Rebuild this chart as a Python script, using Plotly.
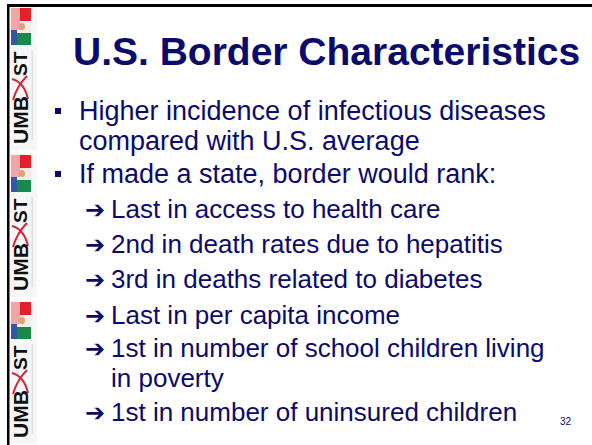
import plotly.graph_objects as go

# ---- slide content ----
title = "U.S. Border Characteristics"
line_texts = [
    "Higher incidence of infectious diseases",
    "compared with U.S. average",
    "If made a state, border would rank:",
    "Last in access to health care",
    "2nd in death rates due to hepatitis",
    "3rd in deaths related to diabetes",
    "Last in per capita income",
    "1st in number of school children living",
    "in poverty",
    "1st in number of uninsured children",
]
# marker type per line: "bullet" (square), "arrow" (sub item), "" (continuation)
line_markers = ["bullet", "", "bullet", "arrow", "arrow", "arrow", "arrow", "arrow", "", "arrow"]
line_levels = [1, 1, 1, 2, 2, 2, 2, 2, 2, 2]
page_number = "32"
logo_words = ["UMB", "ST"]

# ---- layout / style constants (pixels) ----
W, H = 592, 445
NAVY = "#0b0b6b"
FONT = "Arial, Liberation Sans, sans-serif"
line_y = [111, 141, 174, 209, 244, 279, 315, 348, 378, 412]
level_x = {1: 78, 2: 110}
level_size = {1: 27, 2: 26}
tile_offsets = [0, 147, 294]

fig = go.Figure()
shapes = []
annotations = []

# slide frame lines
shapes.append(dict(type="rect", x0=7, x1=W, y0=4, y1=7, fillcolor="black", line_width=0, layer="above"))
shapes.append(dict(type="rect", x0=7, x1=9.5, y0=4, y1=H, fillcolor="black", line_width=0, layer="above"))

# logo strip tiles
for oy in tile_offsets:
    shapes += [
        dict(type="rect", x0=10, x1=37, y0=7 + oy, y1=150 + oy, fillcolor="#f7f6f6", line_width=0),
        dict(type="rect", x0=11, x1=20, y0=8 + oy, y1=30 + oy, fillcolor="#f2a6a6", line_width=0),
        dict(type="rect", x0=20, x1=31, y0=8 + oy, y1=21 + oy, fillcolor="#e3202c", line_width=0),
        dict(type="rect", x0=20, x1=31, y0=21 + oy, y1=33 + oy, fillcolor="#f4ecea", line_width=0),
        dict(type="circle", x0=19, x1=25, y0=23 + oy, y1=30 + oy, fillcolor="#e0a070", line_width=0),
        dict(type="rect", x0=11, x1=17, y0=30 + oy, y1=45 + oy, fillcolor="#3556a8", line_width=0),
        dict(type="rect", x0=17, x1=31, y0=33 + oy, y1=45 + oy, fillcolor="#17894a", line_width=0),
        dict(type="rect", x0=31.5, x1=33, y0=50 + oy, y1=140 + oy, fillcolor="#e2e2e2", line_width=0),
        dict(type="path",
             path=f"M 12 {79+oy} Q 24 {82+oy} 28 {99+oy} M 13 {100+oy} Q 17 {86+oy} 27 {76+oy}",
             line=dict(color="#cc2a3a", width=2)),
    ]
    annotations.append(dict(x=20, y=120 + oy, text=f"<b>{logo_words[0]}</b>", textangle=-90,
                            showarrow=False, xref="x", yref="y",
                            font=dict(family=FONT, size=21, color="#111111")))
    annotations.append(dict(x=20, y=64 + oy, text=f"<b>{logo_words[1]}</b>", textangle=-90,
                            showarrow=False, xref="x", yref="y",
                            font=dict(family=FONT, size=19, color="#111111")))

# title
annotations.append(dict(x=71, y=51, text=f"<b>{title}</b>", xanchor="left", yanchor="middle",
                        showarrow=False, xref="x", yref="y",
                        font=dict(family=FONT, size=39, color=NAVY)))

# body lines
for txt, mk, lv, y in zip(line_texts, line_markers, line_levels, line_y):
    annotations.append(dict(x=level_x[lv], y=y, text=txt, xanchor="left", yanchor="middle",
                            showarrow=False, xref="x", yref="y", borderpad=0,
                            font=dict(family=FONT, size=level_size[lv], color=NAVY)))
    if mk == "bullet":
        shapes.append(dict(type="rect", x0=55, x1=61, y0=y - 3, y1=y + 3, fillcolor=NAVY, line_width=0))
    elif mk == "arrow":
        annotations.append(dict(x=95, y=y + 1, text="<b>➔</b>", xanchor="center", yanchor="middle",
                                showarrow=False, xref="x", yref="y",
                                font=dict(family="DejaVu Sans", size=24, color=NAVY)))

# page number
annotations.append(dict(x=566, y=421, text=page_number, xanchor="center", yanchor="middle",
                        showarrow=False, xref="x", yref="y",
                        font=dict(family=FONT, size=10, color=NAVY)))

fig.update_layout(
    width=W, height=H,
    margin=dict(l=0, r=0, t=0, b=0),
    paper_bgcolor="white", plot_bgcolor="white",
    xaxis=dict(range=[0, W], visible=False, fixedrange=True),
    yaxis=dict(range=[H, 0], visible=False, fixedrange=True),
    shapes=shapes, annotations=annotations, showlegend=False,
)
fig.write_html("out.html", config={"displayModeBar": False},
               post_script="document.body.style.margin='0';document.body.style.overflow='hidden';")
